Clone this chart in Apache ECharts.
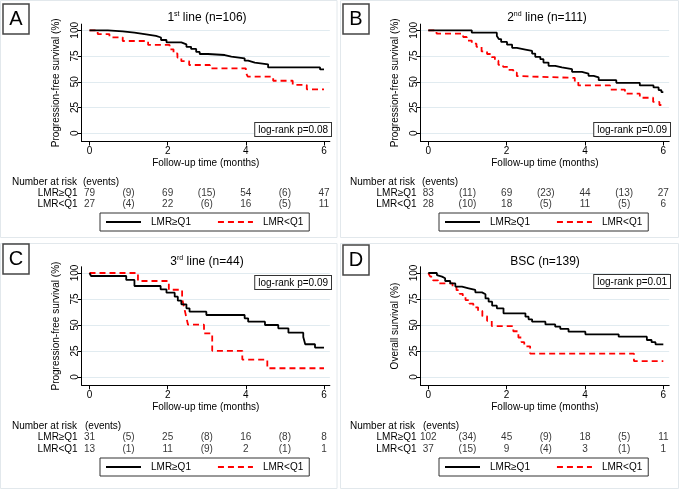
<!DOCTYPE html>
<html><head><meta charset="utf-8">
<script src="https://cdn.jsdelivr.net/npm/echarts@6/dist/echarts.min.js"></script>
<style>html,body{margin:0;padding:0;background:#fff}#c{width:680px;height:490px}</style>
</head><body><div id="c"></div>
<script>
const FONT = "'Liberation Sans', Arial, sans-serif";
const seriesNames = ['LMR≥Q1', 'LMR<Q1'];
const rowLabels = ['LMR≥Q1', 'LMR<Q1'];
const xTicks = [0, 2, 4, 6];
const yTicks = [0, 25, 50, 75, 100];
const riskMonths = [0, 2, 4, 6];
const eventMonths = [1, 3, 5];
const panelLetters = ['A', 'B', 'C', 'D'];
const titleMain = ['1', '2', '3', 'BSC (n=139)'];
const titleSup = ['st', 'nd', 'rd', ''];
const titleRest = [' line (n=106)', ' line (n=111)', ' line (n=44)', ''];
const yNames = ['Progression-free survival (%)', 'Progression-free survival (%)', 'Progression-free survival (%)', 'Overall survival (%)'];
const xName = 'Follow-up time (months)';
const logRank = ['log-rank p=0.08', 'log-rank p=0.09', 'log-rank p=0.09', 'log-rank p=0.01'];

// Panel A (1st line)
const aHighT = [0, 0.47, 0.85, 1.15, 1.45, 1.7, 1.83, 1.97, 2.35, 2.48, 2.6, 2.73, 2.82, 3.03, 3.46, 3.63, 3.97, 4.06, 4.23, 4.57, 5.9, 6.0];
const aHighS = [100, 99, 97.7, 96, 94.5, 93, 90.6, 88.3, 86.4, 84, 81.9, 79, 77, 76, 74.4, 72.8, 70.5, 68.6, 67, 64, 62, 62];
const aLowT = [0, 0.21, 0.51, 0.85, 1.5, 2.05, 2.15, 2.25, 2.35, 2.55, 3.08, 4.0, 4.05, 4.7, 5.2, 5.56, 6.0];
const aLowS = [100, 96.3, 93.2, 89.6, 85.8, 81.5, 77.5, 73.5, 70, 66.3, 63.1, 59, 55, 51, 47, 42.7, 42.7];
const aHighRisk = [79, 69, 54, 47], aHighEvents = [9, 15, 6];
const aLowRisk = [27, 22, 16, 11], aLowEvents = [4, 6, 5];

// Panel B (2nd line)
const bHighT = [0, 1.11, 1.75, 1.80, 1.86, 2.01, 2.14, 2.26, 2.48, 2.65, 2.73, 2.86, 2.94, 3.07, 3.24, 3.41, 3.67, 3.92, 4.09, 4.22, 4.35, 4.8, 5.4, 5.75, 5.88, 5.95, 6.0];
const bHighS = [100, 97.7, 94.5, 91.5, 88.7, 86, 83, 81.3, 80, 77.4, 74.2, 72, 68.7, 65.5, 63.9, 62.3, 59.7, 58, 55.8, 54.2, 51.6, 49, 46.5, 44.5, 42, 40, 40];
const bLowT = [0, 0.21, 0.89, 0.98, 1.11, 1.23, 1.36, 1.5, 1.62, 1.7, 1.79, 1.91, 2.04, 2.17, 2.26, 2.34, 3.74, 3.83, 4.64, 5.02, 5.4, 5.74, 5.9, 6.0];
const bLowS = [100, 96.8, 93.5, 90, 87, 84, 79.5, 77, 74, 70.5, 66.5, 64.5, 61.5, 59, 55.5, 53.8, 50, 46.5, 42.5, 38.5, 34.5, 30.5, 27.5, 27.5];
const bHighRisk = [83, 69, 44, 27], bHighEvents = [11, 23, 13];
const bLowRisk = [28, 18, 11, 6], bLowEvents = [10, 5, 5];

// Panel C (3rd line)
const cHighT = [0, 0.04, 0.94, 1.15, 1.82, 1.97, 2.18, 2.26, 2.35, 2.48, 2.56, 2.99, 3.97, 4.06, 4.49, 4.83, 5.09, 5.47, 5.52, 5.77, 6.0];
const cHighS = [100, 97.1, 93.3, 87.5, 84.3, 81.1, 77.2, 73.4, 69.9, 66, 62.8, 59.6, 56.4, 53.2, 50, 46.8, 42.6, 38.5, 31.5, 28.3, 28.3];
const cLowT = [0, 1.24, 2.03, 2.37, 2.42, 2.47, 2.52, 2.93, 3.14, 3.91, 4.55, 6.0];
const cLowS = [100, 92.3, 83.9, 75.5, 67.1, 58.7, 50.3, 41.9, 25.2, 16.8, 8.4, 8.4];
const cHighRisk = [31, 25, 16, 8], cHighEvents = [5, 8, 8];
const cLowRisk = [13, 11, 2, 1], cLowEvents = [1, 9, 1];

// Panel D (BSC)
const dHighT = [0, 0.22, 0.26, 0.35, 0.43, 0.56, 0.69, 0.86, 1.03, 1.2, 1.37, 1.46, 1.54, 1.63, 1.75, 1.92, 2.48, 2.56, 2.65, 2.99, 3.24, 3.37, 3.58, 4.01, 4.86, 5.58, 5.7, 5.8, 6.0];
const dHighS = [100, 98, 96.5, 94.9, 92.3, 90, 86.9, 85.3, 83.7, 81.4, 79.5, 75.6, 72.4, 68.6, 66, 61.2, 58, 55.5, 53.2, 50.6, 48.4, 46.2, 43.6, 41, 38.8, 35.6, 33.5, 31.4, 31.4];
const dLowT = [0, 0.05, 0.12, 0.25, 0.62, 0.72, 0.8, 0.88, 0.95, 1.05, 1.15, 1.27, 1.38, 1.5, 1.62, 2.17, 2.3, 2.38, 2.45, 2.6, 5.25, 6.0];
const dLowS = [100, 96.5, 93, 90, 86.5, 83.5, 80, 77, 74, 70.5, 67, 63.5, 58.5, 54, 49, 44, 38, 33.5, 29.5, 22.5, 15.3, 15.3];
const dHighRisk = [102, 45, 18, 11], dHighEvents = [34, 9, 5];
const dLowRisk = [37, 9, 3, 1], dLowEvents = [15, 4, 1];

const curves = [
  [[aHighT, aHighS], [aLowT, aLowS]],
  [[bHighT, bHighS], [bLowT, bLowS]],
  [[cHighT, cHighS], [cLowT, cLowS]],
  [[dHighT, dHighS], [dLowT, dLowS]]
];
const tables = [
  [[aHighRisk, aHighEvents], [aLowRisk, aLowEvents]],
  [[bHighRisk, bHighEvents], [bLowRisk, bLowEvents]],
  [[cHighRisk, cHighEvents], [cLowRisk, cLowEvents]],
  [[dHighRisk, dHighEvents], [dLowRisk, dLowEvents]]
];

// layout (pixels)
const X_MIN = -0.2, X_MAX = 6.15, Y_MIN = -8, Y_MAX = 106;
const L = [
  {x0: 89.5, ppm: 39.08, y100: 30.3, ppu: 1.03, tTop: 187.5, tH: 22, headY: 182, headX: 12, evX: 83, lgL: 100, lgT: 213, tX: 207, tY: 18, lrR: 331, lrT: 123, box: [3, 4], frame: [0.5, 0.5, 336.5, 237]},
  {x0: 428.3, ppm: 39.17, y100: 30.3, ppu: 1.03, tTop: 187.5, tH: 22, headY: 182, headX: 350, evX: 422, lgL: 439, lgT: 213, tX: 547, tY: 18, lrR: 670, lrT: 123, box: [343, 4], frame: [340.5, 0.5, 338, 237]},
  {x0: 89.5, ppm: 39.08, y100: 273, ppu: 1.04, tTop: 431, tH: 24, headY: 426, headX: 12, evX: 85, lgL: 100, lgT: 458, tX: 207, tY: 262, lrR: 331, lrT: 276, box: [3, 244], frame: [0.5, 243.5, 336.5, 245]},
  {x0: 428.3, ppm: 39.17, y100: 273, ppu: 1.04, tTop: 431, tH: 24, headY: 426, headX: 350, evX: 423, lgL: 439, lgT: 458, tX: 545, tY: 262, lrR: 670, lrT: 275, box: [343, 245], frame: [340.5, 243.5, 338, 245]}
];
const lineColors = ['#000000', '#ff0000'];
const lineTypes = ['solid', [6, 4]];

const grid = [], xAxis = [], yAxis = [], series = [], legend = [], graphic = [];
L.forEach((p, i) => {
  const left = p.x0 + X_MIN * p.ppm;
  const width = (X_MAX - X_MIN) * p.ppm;
  const top = p.y100 - (Y_MAX - 100) * p.ppu;
  const height = (Y_MAX - Y_MIN) * p.ppu;
  grid.push({left: left, top: top, width: width, height: height});
  grid.push({left: left, top: p.tTop, width: width, height: p.tH});
  const gi = 2 * i;
  xAxis.push({
    gridIndex: gi, type: 'value', min: X_MIN, max: X_MAX,
    axisLine: {show: true, onZero: false, lineStyle: {color: '#000', width: 1}},
    axisTick: {show: true, length: 4, customValues: xTicks, lineStyle: {color: '#000'}},
    axisLabel: {customValues: xTicks, fontSize: 10, color: '#000', margin: 5, fontFamily: FONT},
    splitLine: {show: false},
    name: xName, nameLocation: 'middle', nameGap: 17,
    nameTextStyle: {fontSize: 10, color: '#000', fontFamily: FONT}
  });
  xAxis.push({gridIndex: gi + 1, type: 'value', min: X_MIN, max: X_MAX, show: false});
  yAxis.push({
    gridIndex: gi, type: 'value', min: Y_MIN, max: Y_MAX,
    axisLine: {show: true, onZero: false, lineStyle: {color: '#000', width: 1}},
    axisTick: {show: true, length: 4, customValues: yTicks, lineStyle: {color: '#000'}},
    axisLabel: {customValues: yTicks, rotate: 90, fontSize: 10, color: '#000', margin: 1, fontFamily: FONT},
    splitLine: {show: true, lineStyle: {color: '#e1ebf0', width: 1}},
    name: yNames[i], nameLocation: 'middle', nameGap: 20, nameRotate: 90,
    nameTextStyle: {fontSize: 10, color: '#000', fontFamily: FONT}
  });
  yAxis.push({
    gridIndex: gi + 1, type: 'category', data: rowLabels, inverse: true,
    axisLine: {show: false}, axisTick: {show: false}, splitLine: {show: false},
    axisLabel: {interval: 0, fontSize: 10, color: '#000', margin: 4, fontFamily: FONT}
  });
  curves[i].forEach((c, k) => {
    series.push({
      type: 'line', name: seriesNames[k], step: 'end', symbol: 'none',
      xAxisIndex: gi, yAxisIndex: gi,
      data: c[0].map((t, j) => [t, c[1][j]]),
      color: lineColors[k],
      lineStyle: {color: lineColors[k], width: 1.8, type: lineTypes[k]},
      z: 3 + (1 - k), silent: true, animation: false
    });
  });
  tables[i].forEach((r, k) => {
    const data = [];
    riskMonths.forEach((m, j) => data.push([m, rowLabels[k], String(r[0][j])]));
    eventMonths.forEach((m, j) => data.push([m, rowLabels[k], '(' + r[1][j] + ')']));
    series.push({
      type: 'scatter', name: 'table' + i + k, xAxisIndex: gi + 1, yAxisIndex: gi + 1,
      symbolSize: 1, itemStyle: {color: 'rgba(0,0,0,0)'}, silent: true, animation: false,
      data: data,
      label: {show: true, position: 'inside', formatter: (q) => q.value[2], fontSize: 10, color: '#000', fontFamily: FONT}
    });
  });
  legend.push({
    data: seriesNames, left: p.lgL, top: p.lgT, orient: 'horizontal',
    itemWidth: 35, itemHeight: 11, itemGap: 26, selectedMode: false,
    itemStyle: {opacity: 0},
    lineStyle: {width: 2},
    borderColor: '#333', borderWidth: 1, padding: [4, 6, 4, 5], backgroundColor: '#fff',
    textStyle: {fontSize: 10, color: '#000', fontFamily: FONT, padding: [0, 0, 0, 5]}
  });
  graphic.push({type: 'rect', shape: {x: p.frame[0], y: p.frame[1], width: p.frame[2], height: p.frame[3]}, style: {fill: 'none', stroke: '#e2e8ec', lineWidth: 1}, z: -10, silent: true});
  graphic.push({type: 'rect', shape: {x: p.box[0], y: p.box[1], width: 26, height: 30}, style: {fill: '#fff', stroke: '#444', lineWidth: 1.5}, z: 10, silent: true});
  graphic.push({type: 'text', x: p.box[0] + 13, y: p.box[1] + 15.5, style: {text: panelLetters[i], font: '20px ' + FONT, fill: '#000', align: 'center', verticalAlign: 'middle'}, z: 11, silent: true});
  const txt = titleSup[i] ? '{n|' + titleMain[i] + '}{s|' + titleSup[i] + '}{n|' + titleRest[i] + '}' : '{n|' + titleMain[i] + '}';
  graphic.push({type: 'text', x: p.tX, y: p.tY, style: {text: txt, align: 'center', verticalAlign: 'middle', fill: '#000',
    rich: {n: {fontSize: 12, fontFamily: FONT, fill: '#000', lineHeight: 14}, s: {fontSize: 7, fontFamily: FONT, fill: '#000', verticalAlign: 'top', lineHeight: 14}}}, z: 10, silent: true});
  graphic.push({type: 'text', x: p.lrR, y: p.lrT, style: {text: logRank[i], font: '10px ' + FONT, fill: '#000', align: 'right', verticalAlign: 'top',
    backgroundColor: '#fff', borderColor: '#333', borderWidth: 1, padding: [1, 3, 0, 3], lineHeight: 12}, z: 10, silent: true});
  graphic.push({type: 'text', x: p.headX, y: p.headY, style: {text: 'Number at risk', font: '10px ' + FONT, fill: '#000', align: 'left', verticalAlign: 'middle'}, silent: true});
  graphic.push({type: 'text', x: p.evX, y: p.headY, style: {text: '(events)', font: '10px ' + FONT, fill: '#000', align: 'left', verticalAlign: 'middle'}, silent: true});
});

const chart = echarts.init(document.getElementById('c'), null, {renderer: 'canvas'});
chart.setOption({
  backgroundColor: '#fff', animation: false,
  textStyle: {fontFamily: FONT},
  grid: grid, xAxis: xAxis, yAxis: yAxis, series: series, legend: legend, graphic: graphic
});
</script></body></html>
